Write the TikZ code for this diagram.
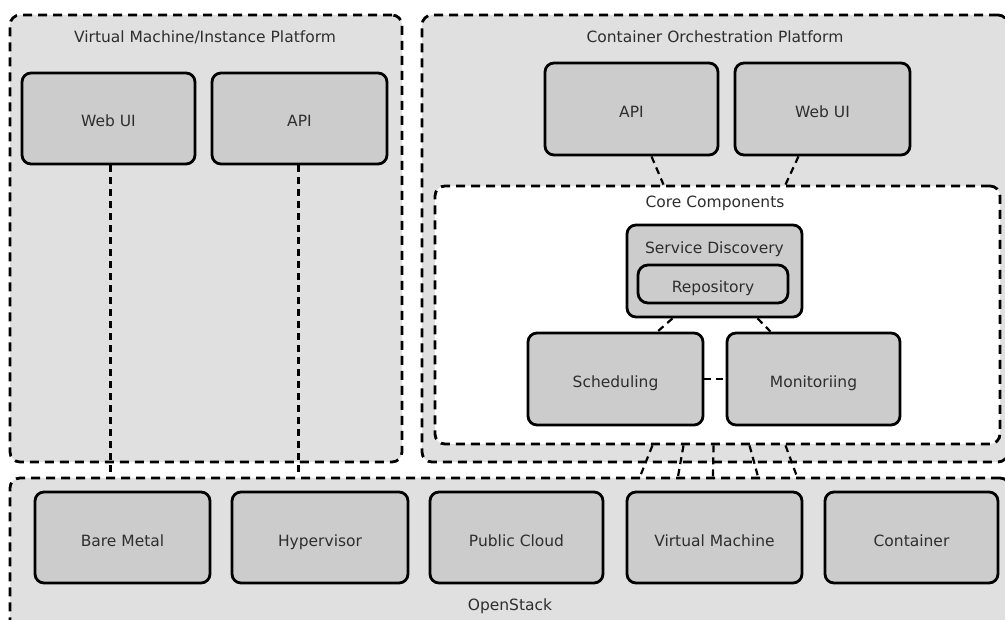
\documentclass[tikz,border=0pt]{standalone}
\usepackage{fontspec}
\setmainfont{DejaVu Sans}
\usetikzlibrary{positioning}
\definecolor{grpfill}{HTML}{E0E0E0}
\definecolor{boxfill}{HTML}{CCCCCC}
\definecolor{txt}{HTML}{2E2E2E}
\tikzset{
  group/.style={draw=black, fill=grpfill, line width=2.8pt, dash pattern=on 9pt off 6pt, rounded corners=10pt, inner sep=0pt},
  coregroup/.style={group, fill=white},
  box/.style={draw=black, fill=boxfill, line width=2.8pt, rounded corners=9pt, inner sep=0pt, text=txt, font=\fontsize{15.5}{18}\selectfont, text height=17pt, text depth=0pt},
  title/.style={text=txt, font=\fontsize{15.5}{18}\selectfont, inner sep=0pt, text height=13pt, text depth=2pt},
  conn/.style={draw=black, line width=2.2pt, dash pattern=on 7pt off 5pt},
}
\begin{document}
\begin{tikzpicture}[x=1pt,y=-1pt]
\clip (0,0) rectangle (1005,620);
\fill[white] (0,0) rectangle (1005,620);
% groups
\node[group, minimum width=392pt, minimum height=447pt] (vmp) at (206,238.5) {};
\node[group, minimum width=586pt, minimum height=447pt] (cop) at (715,238.5) {};
\node[coregroup, minimum width=565pt, minimum height=258pt] (core) at (717.5,315) {};
\node[group, minimum width=1000pt, minimum height=152pt] (os) at (510,554) {};
% titles
\node[title] (vmpt) at (205,37) {Virtual Machine/Instance Platform};
\node[title] (copt) at (715,37) {Container Orchestration Platform};
\node[title] (coret) at (715,202) {Core Components};
\node[title] (ost) at (510,605) {OpenStack};
% VM platform boxes
\node[box, minimum width=173pt, minimum height=91pt] (webui1) at (108.5,118.5) {Web UI};
\node[box, minimum width=175pt, minimum height=91pt] (api1) at (299.5,118.5) {API};
% container platform boxes
\node[box, minimum width=173pt, minimum height=92pt] (api2) at (631.5,109) {API};
\node[box, minimum width=175pt, minimum height=92pt] (webui2) at (822.5,109) {Web UI};
% core components
\node[box, minimum width=175pt, minimum height=92pt] (sd) at (714.5,271) {};
\node[title] (sdt) at (714.5,248) {Service Discovery};
\node[box, minimum width=150pt, minimum height=38pt, rounded corners=10pt] (repo) at (713,284) {Repository};
\node[box, minimum width=175pt, minimum height=92pt] (sched) at (615.5,379) {Scheduling};
\node[box, minimum width=173pt, minimum height=92pt] (mon) at (813.5,379) {Monitoriing};
% openstack boxes
\node[box, minimum width=175pt, minimum height=91pt] (bm) at (122.5,537.5) {Bare Metal};
\node[box, minimum width=176pt, minimum height=91pt] (hyp) at (320,537.5) {Hypervisor};
\node[box, minimum width=173pt, minimum height=91pt] (pc) at (516.5,537.5) {Public Cloud};
\node[box, minimum width=175pt, minimum height=91pt] (vm) at (714.5,537.5) {Virtual Machine};
\node[box, minimum width=173pt, minimum height=91pt] (cont) at (911.5,537.5) {Container};
% connectors
\draw[conn] ([xshift=2pt]webui1.south) -- ([xshift=2pt]webui1.south |- os.north);
\draw[conn] ([xshift=-1pt]api1.south) -- ([xshift=-1pt]api1.south |- os.north);
\draw[conn] ([xshift=20pt]api2.south) -- ([xshift=-54pt]core.north);
\draw[conn] ([xshift=-24pt]webui2.south) -- ([xshift=68pt]core.north);
\draw[conn] ([xshift=-42pt]sd.south) -- ([xshift=42pt]sched.north);
\draw[conn] ([xshift=43pt]sd.south) -- ([xshift=-43pt]mon.north);
\draw[conn] (sched.east) -- (mon.west);
\draw[conn] ([xshift=-65pt]core.south) -- ([xshift=130pt]os.north);
\draw[conn] ([xshift=-34pt]core.south) -- ([xshift=168pt]os.north);
\draw[conn] ([xshift=-4pt]core.south) -- ([xshift=203pt]os.north);
\draw[conn] ([xshift=32pt]core.south) -- ([xshift=248pt]os.north);
\draw[conn] ([xshift=68pt]core.south) -- ([xshift=287pt]os.north);
\end{tikzpicture}
\end{document}
